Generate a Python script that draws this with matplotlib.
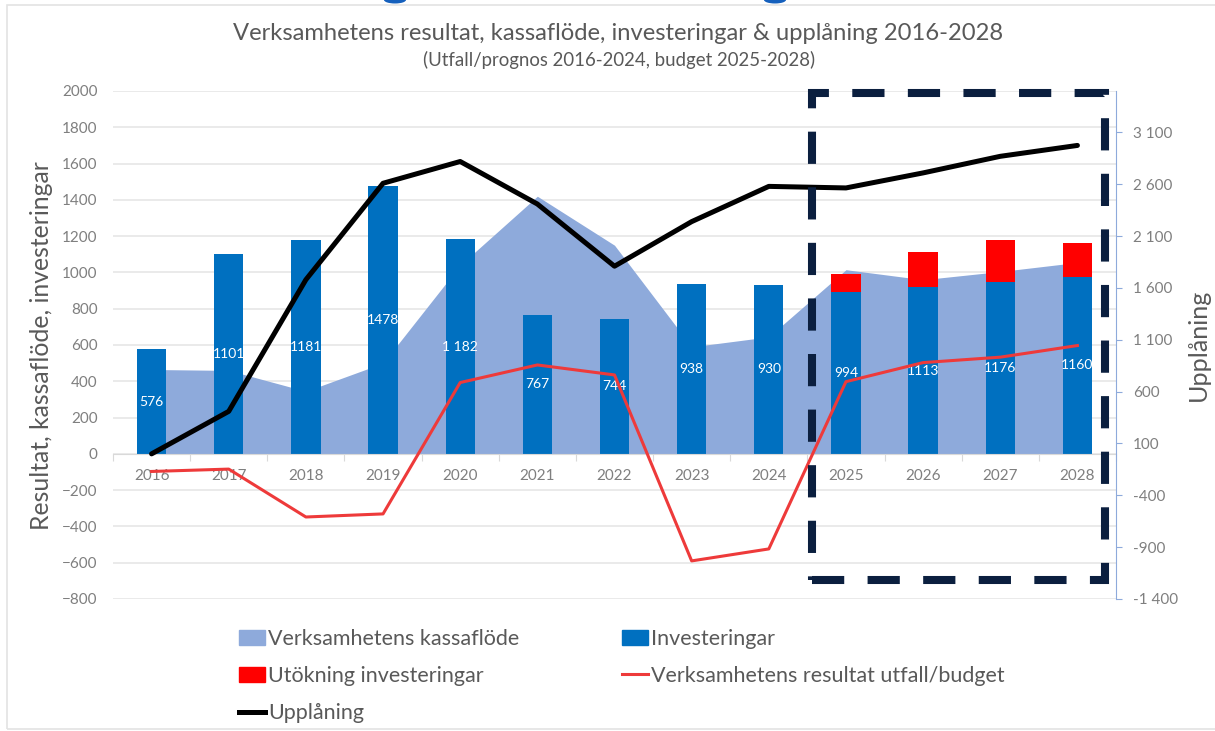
import matplotlib
matplotlib.use("Agg")
import matplotlib.pyplot as plt
import matplotlib.patches as mpatches
from matplotlib.lines import Line2D
import numpy as np

plt.rcParams['font.family'] = ['Lato', 'DejaVu Sans']

# data
years = [str(y) for y in range(2016, 2029)]
kassaflode = [465, 460, 345, 500, 1040, 1420, 1150, 590, 645, 1015, 960, 1005, 1055]
investeringar = [576, 1101, 1181, 1478, 1182, 767, 744, 938, 930, 890, 918, 946, 975]
utokning = [0, 0, 0, 0, 0, 0, 0, 0, 0, 104, 195, 230, 185]
bar_labels = ['576', '1101', '1181', '1478', '1 182', '767', '744', '938', '930',
              '994', '1113', '1176', '1160']
resultat = [-97, -84, -348, -331, 393, 490, 435, -590, -524, 398, 503, 533, 597]
upplaning = [0, 410, 1680, 2610, 2820, 2410, 1810, 2240, 2580, 2565, 2710, 2870, 2975]

c_area = '#8eaadb'
c_bar = '#0070c0'
c_red = '#ff0000'
c_line = '#ee3a3a'
c_text = '#595959'
c_tick = '#7f7f7f'

W, H = 1215, 731
fig = plt.figure(figsize=(W / 100, H / 100), dpi=100)
renderer = fig.canvas.get_renderer()


def fit(t, target, vertical=False):
    # scale a text so its length in pixels matches the reference
    bb = t.get_window_extent(renderer)
    size = bb.height if vertical else bb.width
    t.set_fontsize(t.get_fontsize() * target / size)
    return t


ax = fig.add_axes([113 / W, 1 - 599 / H, (1116 - 113) / W, (599 - 91) / H])
ax2 = ax.twinx()

x = np.arange(len(years))
inv = np.array(investeringar)

ax.fill_between(x, 0, kassaflode, color=c_area, lw=0, zorder=1)
ax.bar(x, inv, width=0.38, color=c_bar, zorder=2)
ax.bar(x, utokning, width=0.38, bottom=inv, color=c_red, zorder=2)
for xi, v, lab in zip(x, inv, bar_labels):
    ax.text(xi, v / 2, lab, color='white', ha='center', va='center',
            fontsize=10, zorder=4)
ax.plot(x, resultat, color=c_line, lw=2.2, zorder=5)
ax2.plot(x, upplaning, color='black', lw=3.6, zorder=5, solid_capstyle='round')

# left axis
ax.set_xlim(-0.48, 12.5)
ax.set_ylim(-800, 2000)
ax.set_yticks(range(-800, 2001, 200))
ax.yaxis.grid(True, color='#e6e6e6', lw=1.2)
ax.set_axisbelow(True)
ax.tick_params(axis='y', length=0, pad=11, labelsize=11, labelcolor=c_tick)
for s in ['left', 'top', 'right']:
    ax.spines[s].set_visible(False)
ax.spines['bottom'].set_position(('data', 0))
ax.spines['bottom'].set_color('#d9d9d9')
ax.set_xticks(np.arange(-0.5, 13, 1))
ax.set_xticklabels([])
ax.set_xticks(x, minor=True)
ax.set_xticklabels(years, minor=True)
ax.tick_params(axis='x', which='major', length=5, color='#d9d9d9', direction='out')
ax.tick_params(axis='x', which='minor', length=0, pad=11, labelsize=11, labelcolor=c_tick)

# right axis
ax2.set_ylim(-1400, 3500)
rt = list(range(-1400, 3101, 500))
ax2.set_yticks(rt)
ax2.set_yticklabels([f"{v:,}".replace(',', ' ') for v in rt])
ax2.tick_params(axis='y', length=4, color=c_area, pad=8, labelsize=11, labelcolor=c_tick)
for s in ['left', 'top', 'bottom']:
    ax2.spines[s].set_visible(False)
ax2.spines['right'].set_color(c_area)

# titles and axis labels
t1 = fig.text(618 / W, 1 - 33 / H, 'Verksamhetens resultat, kassaflöde, investeringar & upplåning 2016-2028',
              ha='center', va='center', fontsize=16, color=c_text)
fit(t1, 773)
t2 = fig.text(619 / W, 1 - 60 / H, '(Utfall/prognos 2016-2024, budget 2025-2028)',
              ha='center', va='center', fontsize=12, color=c_text)
fit(t2, 392)
t3 = fig.text(42 / W, 1 - 346 / H, 'Resultat, kassaflöde, investeringar', rotation=90,
              ha='center', va='center', fontsize=15, color=c_text)
fit(t3, 370, vertical=True)
t4 = fig.text(1198 / W, 1 - 345 / H, 'Upplåning', rotation=90,
              ha='center', va='center', fontsize=15, color=c_text)
fit(t4, 112, vertical=True)

# cut-off heading fragments at the very top edge
for gx in [395, 775]:
    fig.patches.append(mpatches.Ellipse((gx / W, 1.0), 22 / W, 7 / H,
                                        transform=fig.transFigure, color='#1560bd', lw=0))

# dashed highlight box
box = mpatches.Rectangle((812 / W, 1 - 580 / H), (1105 - 812) / W, (580 - 93) / H,
                         transform=fig.transFigure, fill=False, edgecolor='#0b1f3f',
                         lw=5.8, linestyle=(0, (4, 2.9)), zorder=10)
fig.patches.append(box)

# faint outer frame
frame = mpatches.Rectangle((7 / W, 1 - 729 / H), (1220 - 7) / W, (729 - 5) / H,
                           transform=fig.transFigure, fill=False, edgecolor='#e3e3e3', lw=1.2)
fig.patches.append(frame)

# legend, row order as in the reference
handles = [
    mpatches.Patch(color=c_area),
    mpatches.Patch(color=c_red),
    Line2D([], [], color='black', lw=3.6),
    mpatches.Patch(color=c_bar),
    Line2D([], [], color=c_line, lw=2.2),
]
labels = ['Verksamhetens kassaflöde', 'Utökning investeringar', 'Upplåning',
          'Investeringar', 'Verksamhetens resultat utfall/budget']
probe = fig.text(0, 0, labels[0], fontsize=15)
leg_size = fit(probe, 252).get_fontsize()
probe.remove()
fig.legend(handles, labels, ncol=2, loc='upper left',
           bbox_to_anchor=(228 / W, 1 - 618 / H), frameon=False,
           fontsize=leg_size, labelcolor=c_text, handlelength=1.2, handletextpad=0.15,
           labelspacing=0.8, columnspacing=4.8, borderpad=0)

fig.savefig('out.png', dpi=100)
